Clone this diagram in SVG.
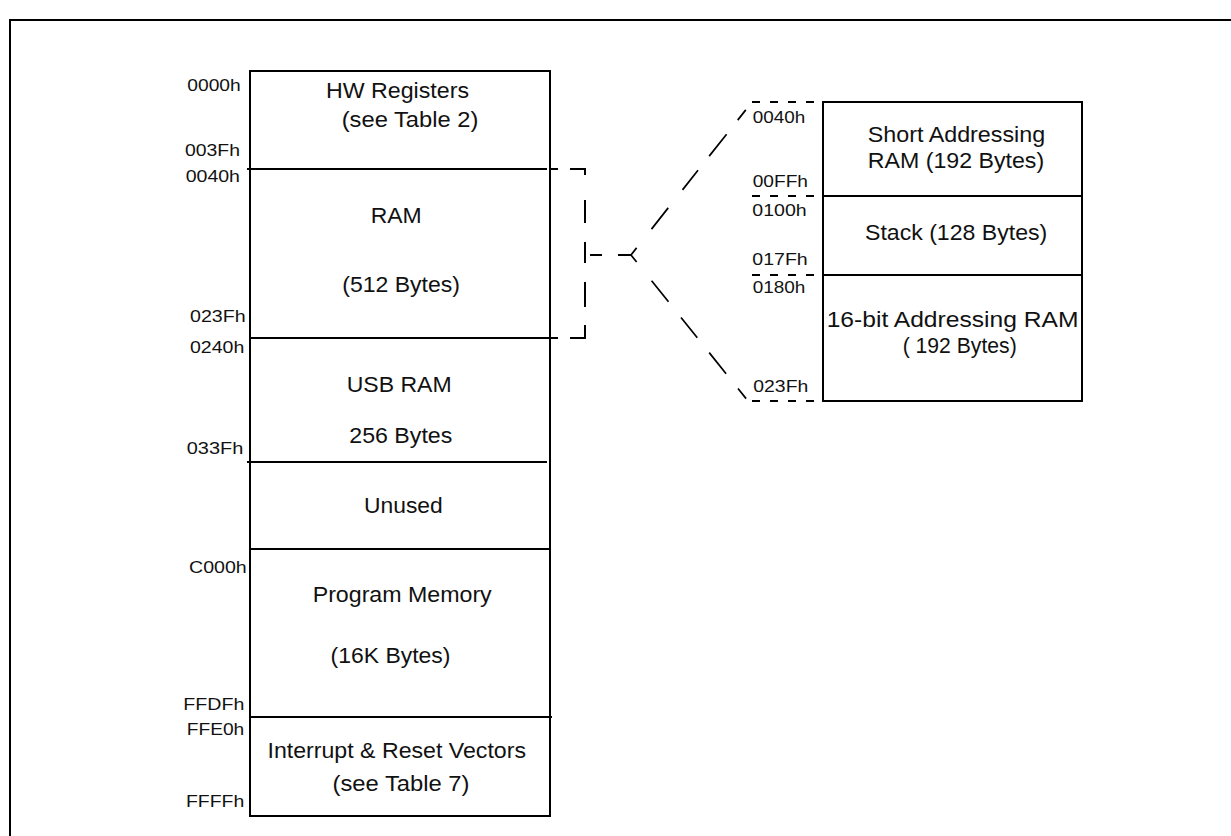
<svg xmlns="http://www.w3.org/2000/svg" width="1231" height="836" viewBox="0 0 1231 836">
<style>
.ln{stroke:#000;stroke-width:2;fill:none}
.dl{stroke:#000;stroke-width:2;fill:none;stroke-linecap:butt}
.dg{stroke:#000;stroke-width:1.7;fill:none}
.dh{stroke:#000;stroke-width:2;fill:none;stroke-dasharray:8 10}
.ad{font-family:"Liberation Sans",Arial,sans-serif;font-size:16.5px;fill:#111}
.lb{font-family:"Liberation Sans",Arial,sans-serif;font-size:22px;fill:#111}
</style>
<rect width="1231" height="836" fill="#fff"/>
<g id="frame">
<path class="ln" d="M10,836 V20 H1231"/>
</g>
<g id="memory-map">
<rect class="ln" x="250" y="71" width="300" height="745"/>
<path class="ln" d="M247,169 H547 M249,338 H550 M247,462 H547 M249,549 H550 M250,717 H552"/>
</g>
<g id="hw-registers">
<text class="ad" x="187.3" y="91" textLength="53.4" lengthAdjust="spacingAndGlyphs">0000h</text>
<text class="ad" x="185" y="156" textLength="55" lengthAdjust="spacingAndGlyphs">003Fh</text>
<text class="lb" x="326" y="97.7" textLength="143" lengthAdjust="spacingAndGlyphs">HW Registers</text>
<text class="lb" x="341.7" y="126.7" textLength="136.7" lengthAdjust="spacingAndGlyphs">(see Table 2)</text>
</g>
<g id="ram">
<text class="ad" x="185.7" y="181.7" textLength="54.3" lengthAdjust="spacingAndGlyphs">0040h</text>
<text class="ad" x="190" y="321.7" textLength="55.7" lengthAdjust="spacingAndGlyphs">023Fh</text>
<text class="lb" x="370.7" y="222.7" textLength="51" lengthAdjust="spacingAndGlyphs">RAM</text>
<text class="lb" x="342.3" y="291.7" textLength="117.7" lengthAdjust="spacingAndGlyphs">(512 Bytes)</text>
</g>
<g id="usb-ram">
<text class="ad" x="190" y="352.7" textLength="54.3" lengthAdjust="spacingAndGlyphs">0240h</text>
<text class="ad" x="186.7" y="454.3" textLength="56.6" lengthAdjust="spacingAndGlyphs">033Fh</text>
<text class="lb" x="346.7" y="391.7" textLength="105" lengthAdjust="spacingAndGlyphs">USB RAM</text>
<text class="lb" x="349.3" y="442.7" textLength="103" lengthAdjust="spacingAndGlyphs">256 Bytes</text>
</g>
<g id="unused">
<text class="lb" x="364" y="512.7" textLength="78.7" lengthAdjust="spacingAndGlyphs">Unused</text>
</g>
<g id="program-memory">
<text class="ad" x="189" y="573" textLength="57.7" lengthAdjust="spacingAndGlyphs">C000h</text>
<text class="ad" x="183.3" y="710" textLength="61" lengthAdjust="spacingAndGlyphs">FFDFh</text>
<text class="lb" x="312.7" y="602.3" textLength="179" lengthAdjust="spacingAndGlyphs">Program Memory</text>
<text class="lb" x="330.5" y="662.5" textLength="120" lengthAdjust="spacingAndGlyphs">(16K Bytes)</text>
</g>
<g id="vectors">
<text class="ad" x="186.7" y="735" textLength="57.6" lengthAdjust="spacingAndGlyphs">FFE0h</text>
<text class="ad" x="186" y="806.7" textLength="58.3" lengthAdjust="spacingAndGlyphs">FFFFh</text>
<text class="lb" x="267.5" y="757.5" textLength="258.5" lengthAdjust="spacingAndGlyphs">Interrupt &amp; Reset Vectors</text>
<text class="lb" x="332.5" y="791" textLength="137" lengthAdjust="spacingAndGlyphs">(see Table 7)</text>
</g>
<g id="ram-detail">
<rect class="ln" x="823" y="102" width="259" height="299"/>
<path class="ln" d="M823,196 H1082 M823,275 H1082"/>
</g>
<g id="short-ram">
<text class="ad" x="752.7" y="123" textLength="52.5" lengthAdjust="spacingAndGlyphs">0040h</text>
<text class="ad" x="752.7" y="187.3" textLength="55.3" lengthAdjust="spacingAndGlyphs">00FFh</text>
<text class="lb" x="867.8" y="141.7" textLength="177.4" lengthAdjust="spacingAndGlyphs">Short Addressing</text>
<text class="lb" x="867.8" y="167.7" textLength="176.3" lengthAdjust="spacingAndGlyphs">RAM (192 Bytes)</text>
</g>
<g id="stack">
<text class="ad" x="752.3" y="216" textLength="54.4" lengthAdjust="spacingAndGlyphs">0100h</text>
<text class="ad" x="752.3" y="265" textLength="55.4" lengthAdjust="spacingAndGlyphs">017Fh</text>
<text class="lb" x="865" y="240" textLength="182.3" lengthAdjust="spacingAndGlyphs">Stack (128 Bytes)</text>
</g>
<g id="long-ram">
<text class="ad" x="752.7" y="293.3" textLength="52.7" lengthAdjust="spacingAndGlyphs">0180h</text>
<text class="ad" x="753.3" y="391.7" textLength="55" lengthAdjust="spacingAndGlyphs">023Fh</text>
<text class="lb" x="826.7" y="326.7" textLength="251.7" lengthAdjust="spacingAndGlyphs">16-bit Addressing RAM</text>
<text class="lb" x="902.7" y="353.3" textLength="114" lengthAdjust="spacingAndGlyphs">( 192 Bytes)</text>
</g>
<g id="connectors">
<path class="dl" d="M550,169 H558 M570,169 H585 V175 M585,200 V223 M585,242 V263 M585,282 V307 M585,325 V338 H570 M558,338 H550"/>
<path class="dl" d="M590,255 H602 M618,255 H631"/>
<path class="dg" d="M631,255 L636.6,247.9 M651.5,229.1 L668.2,207.9 M682.5,189.9 L698,170.3 M709.2,156.1 L726.6,134.2 M737.7,120.1 L745.8,109.9"/>
<path class="dg" d="M631,255 L636.6,262 M651.6,280.8 L668.5,301.8 M681,317.5 L697.3,337.8 M709.2,352.6 L726.1,373.7 M738,388.5 L746.1,398.6"/>
<path class="dh" d="M752,102 H822 M752,196 H822 M752,275 H822 M752,401 H822"/>
</g>
</svg>
